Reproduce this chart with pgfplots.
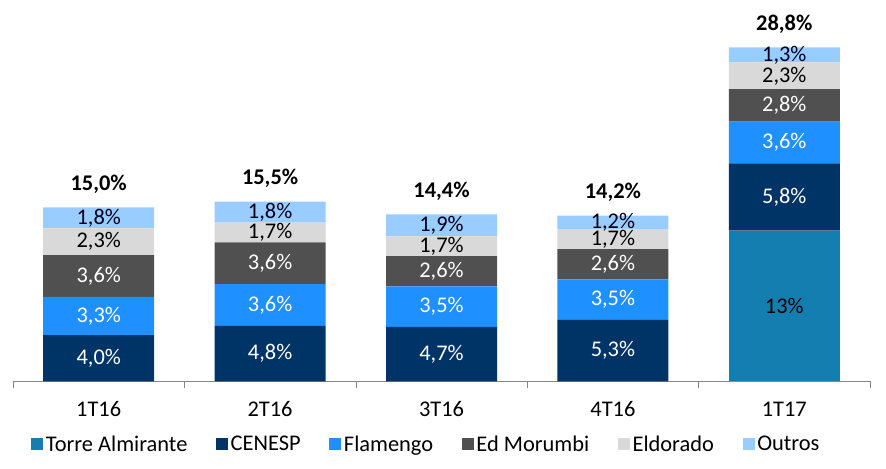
\documentclass[border=0pt]{standalone}
\usepackage{pgfplots}
\pgfplotsset{compat=1.18}
\usepackage{fontspec}
\setmainfont{Carlito}
\definecolor{cTorre}{RGB}{20,126,176}
\definecolor{cCenesp}{RGB}{0,51,102}
\definecolor{cFlam}{RGB}{30,144,255}
\definecolor{cMor}{RGB}{80,80,80}
\definecolor{cEld}{RGB}{217,217,217}
\definecolor{cOut}{RGB}{153,204,255}
\definecolor{axgray}{RGB}{134,134,134}
\newcommand{\lf}{\fontsize{16.8}{20}\selectfont}
\begin{document}
\begin{tikzpicture}
\begin{axis}[
  name=ax,
  scale only axis,
  width=642.75pt, height=278.4pt,
  ybar stacked, bar width=83.25pt,
  xmin=-0.5, xmax=4.5, ymin=0, ymax=32,
  axis y line=none,
  axis x line*=bottom,
  x axis line style={draw=axgray},
  xtick={0,1,2,3,4},
  xticklabels={1T16,2T16,3T16,4T16,1T17},
  major tick length=0pt,
  minor xtick={-0.5,0.5,1.5,2.5,3.5,4.5},
  minor tick length=5.25pt,
  tick align=outside,
  minor tick style={draw=axgray},
  xticklabel style={font=\lf, anchor=center, yshift=-20.5pt},
  clip=false,
  point meta=explicit symbolic,
  nodes near coords,
  every node near coord/.append style={font=\lf, anchor=center},
  legend image code/.code={\fill[#1,draw=none] (0pt,-4.5pt) rectangle (9pt,4.5pt);},
  legend columns=-1,
  legend style={at={(0.021,-0.1697)}, anchor=west, draw=none, fill=none, inner sep=0pt,
    font=\lf, nodes={inner xsep=2pt},
    /tikz/every even column/.append style={column sep=19.5pt}},
]
\addplot[fill=cTorre, draw=none, nodes near coords style={text=black}] coordinates {(0,0) [] (1,0) [] (2,0) [] (3,0) [] (4,13) [13\%]};
\addlegendentry{Torre Almirante}
\addplot[fill=cCenesp, draw=none, nodes near coords style={text=white}] coordinates {(0,4.0) [4,0\%] (1,4.8) [4,8\%] (2,4.7) [4,7\%] (3,5.3) [5,3\%] (4,5.8) [5,8\%]};
\addlegendentry{CENESP}
\addplot[fill=cFlam, draw=none, nodes near coords style={text=white}] coordinates {(0,3.3) [3,3\%] (1,3.6) [3,6\%] (2,3.5) [3,5\%] (3,3.5) [3,5\%] (4,3.6) [3,6\%]};
\addlegendentry{Flamengo}
\addplot[fill=cMor, draw=none, nodes near coords style={text=white}] coordinates {(0,3.6) [3,6\%] (1,3.6) [3,6\%] (2,2.6) [2,6\%] (3,2.6) [2,6\%] (4,2.8) [2,8\%]};
\addlegendentry{Ed Morumbi}
\addplot[fill=cEld, draw=none, nodes near coords style={text=black}] coordinates {(0,2.3) [2,3\%] (1,1.7) [1,7\%] (2,1.7) [1,7\%] (3,1.7) [1,7\%] (4,2.3) [2,3\%]};
\addlegendentry{Eldorado}
\addplot[fill=cOut, draw=none, nodes near coords style={text=black!90!blue}] coordinates {(0,1.8) [1,8\%] (1,1.8) [1,8\%] (2,1.9) [1,9\%] (3,1.2) [1,2\%] (4,1.3) [1,3\%]};
\addlegendentry{Outros}
\end{axis}
\begin{axis}[
  scale only axis,
  width=642.75pt, height=278.4pt,
  xmin=-0.5, xmax=4.5, ymin=0, ymax=32,
  hide axis, clip=false,
  point meta=explicit symbolic,
  nodes near coords,
  every node near coord/.append style={font=\lf\bfseries, anchor=center, yshift=17.25pt, text=black},
]
\addplot[draw=none, mark=none] coordinates {(0,15.0) [15,0\%] (1,15.5) [15,5\%] (2,14.4) [14,4\%] (3,14.3) [14,2\%] (4,28.8) [28,8\%]};
\end{axis}
\pgfresetboundingbox
\path ([shift={(-9.75pt,-65.6pt)}]ax.south west) rectangle ([shift={(12pt,286.1pt)}]ax.south east);
\end{tikzpicture}
\end{document}
